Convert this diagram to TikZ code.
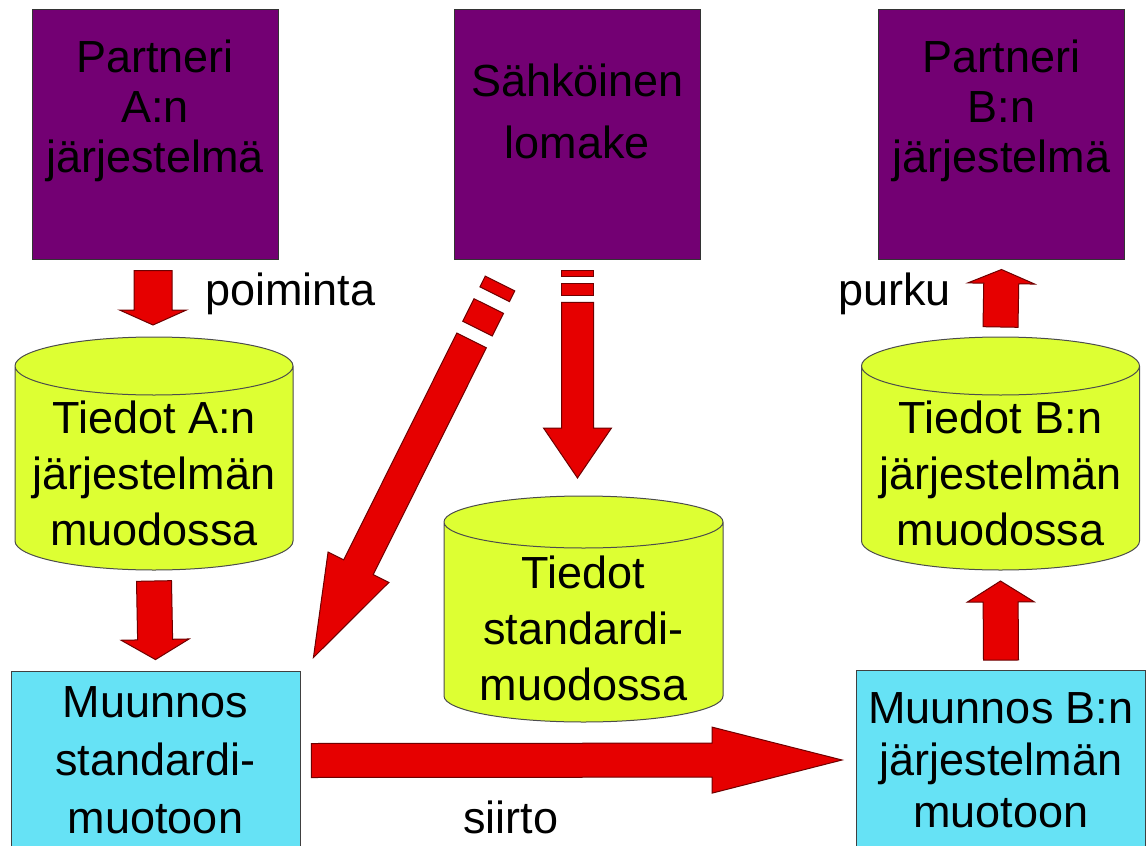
\documentclass[tikz,border=0pt]{standalone}
\usepackage{fontspec}
\setmainfont{Liberation Sans}
\usepackage{tikz}
\usetikzlibrary{calc,backgrounds}

\definecolor{sysviolet}{RGB}{115,0,115}
\definecolor{dataylw}{RGB}{221,255,51}
\definecolor{convcyan}{RGB}{102,226,245}
\definecolor{arrred}{RGB}{230,0,0}
\definecolor{arrdark}{RGB}{110,0,0}

\newcommand{\bigfont}[1]{\fontsize{22.5pt}{#1}\selectfont}
\tikzstyle{every node}=[font=\bigfont{28pt}, align=center, inner sep=0pt]
\tikzstyle{system}=[draw=black!80, fill=sysviolet, line width=0.5pt,
  minimum width=123pt, minimum height=125pt]
\tikzstyle{datastore}=[outer sep=0pt, minimum width=139pt, minimum height=116.5pt,
  text height=92pt]
\tikzstyle{drumline}=[draw=black!70, fill=dataylw, line width=0.5pt]
\tikzstyle{convert}=[draw=black!75, fill=convcyan, minimum width=144.5pt,
  minimum height=89.5pt]
\tikzstyle{redarrow}=[draw=arrdark, fill=arrred, line width=0.5pt]
\tikzstyle{lbl}=[anchor=base west]

% cylinder behind a node: {node}{x radius}{y radius}
\newcommand{\drum}[3]{%
  \draw [drumline] ([yshift=-#3]#1.north west) -- ([yshift=#3]#1.south west)
    arc[start angle=180, end angle=360, x radius=#2, y radius=#3]
    -- ([yshift=-#3]#1.north east)
    arc[start angle=0, end angle=180, x radius=#2, y radius=#3] -- cycle
    ([yshift=-#3]#1.north west)
    arc[start angle=180, end angle=360, x radius=#2, y radius=#3];}

% block arrow: [stripe unit]{tail}{tip}{shaft half}{head half}{head length}
\newcommand{\bigarrow}[6][0pt]{%
  \path let \p1=(#2), \p2=(#3), \n1={atan2(\y2-\y1,\x2-\x1)},
    \n2={veclen(\x2-\x1,\y2-\y1)} in \pgfextra{\xdef\arrang{\n1}\xdef\arrlen{\n2}};
  \begin{scope}[shift={(#2)}, rotate=\arrang]
    \draw [redarrow] ({5.3*#1},-#4) -- ({\arrlen-#6},-#4) -- ({\arrlen-#6},-#5)
      -- (\arrlen,0pt) -- ({\arrlen-#6},#5) -- ({\arrlen-#6},#4)
      -- ({5.3*#1},#4) -- cycle;
    \ifdim #1>0pt
      \draw [redarrow] (0pt,-#4) rectangle (#1,#4);
      \draw [redarrow] ({2.1*#1},-#4) rectangle ({4.2*#1},#4);
    \fi
  \end{scope}}

\begin{document}
\begin{tikzpicture}[x=0.5pt, y=-0.5pt]
  \useasboundingbox (0,0) rectangle (1147,846);
  % systems
  \node [system, font=\bigfont{25pt}, text depth=27.5pt] (partA) at (155,134) {Partneri\\A:n\\järjestelmä};
  \node [system, font=\bigfont{31pt}, text depth=23pt] (sahko) at (577.5,134) {Sähköinen\\lomake};
  \node [system, font=\bigfont{25pt}, text depth=27.5pt] (partB) at (1001.5,134) {Partneri\\B:n\\järjestelmä};
  % data
  \node [datastore] (tdA) at (154,453.5) {Tiedot A:n\\järjestelmän\\muodossa};
  \node [datastore, minimum width=139.5pt, minimum height=113pt] (tdStd) at (583.5,609) {Tiedot\\standardi-\\muodossa};
  \node [datastore] (tdB) at (1000.5,453.5) {Tiedot B:n\\järjestelmän\\muodossa};
  \begin{scope}[on background layer]
    \drum{tdA}{69.5pt}{14.5pt}
    \drum{tdStd}{69.75pt}{13pt}
    \drum{tdB}{69.5pt}{14.5pt}
  \end{scope}
  % conversions
  \node [convert, font=\bigfont{29pt}] (muA) at (155.5,760.5) {Muunnos\\standardi-\\muotoon};
  \node [convert, font=\bigfont{26pt}] (muB) at (1001,760) {Muunnos B:n\\järjestelmän\\muotoon};
  % labels
  \node [lbl] (poim) at (205,305) {poiminta};
  \node [lbl] (purku) at (838,305) {purku};
  \node [lbl] (siirto) at (463,833) {siirto};
  % arrows
  \bigarrow{$(partA.south)+(-2,11)$}{$(tdA.north)+(-1,-12)$}{9.5pt}{16.75pt}{7.5pt}
  \bigarrow{$(tdA.south)+(0,11)$}{$(muA.north)+(0,-11)$}{8.75pt}{17pt}{10pt}
  \bigarrow{$(tdB.north)+(0,-10)$}{$(partB.south)+(0,10)$}{8.75pt}{16.75pt}{7pt}
  \bigarrow{$(muB.north)+(0,-10)$}{$(tdB.south)+(0,11)$}{8.75pt}{16.75pt}{10.5pt}
  \bigarrow[3pt]{$(sahko.south)+(0,11)$}{$(sahko.south |- tdStd.north)+(0,-18)$}{8pt}{17pt}{25pt}
  \bigarrow[6pt]{$(sahko.south west)+(46,24)$}{$(muA.north east)+(13,-13)$}{8.25pt}{17pt}{50.5pt}
  \bigarrow{$(muA.east)+(11,0)$}{$(muB.west)+(-14,0)$}{8.5pt}{16.5pt}{65pt}
\end{tikzpicture}
\end{document}
